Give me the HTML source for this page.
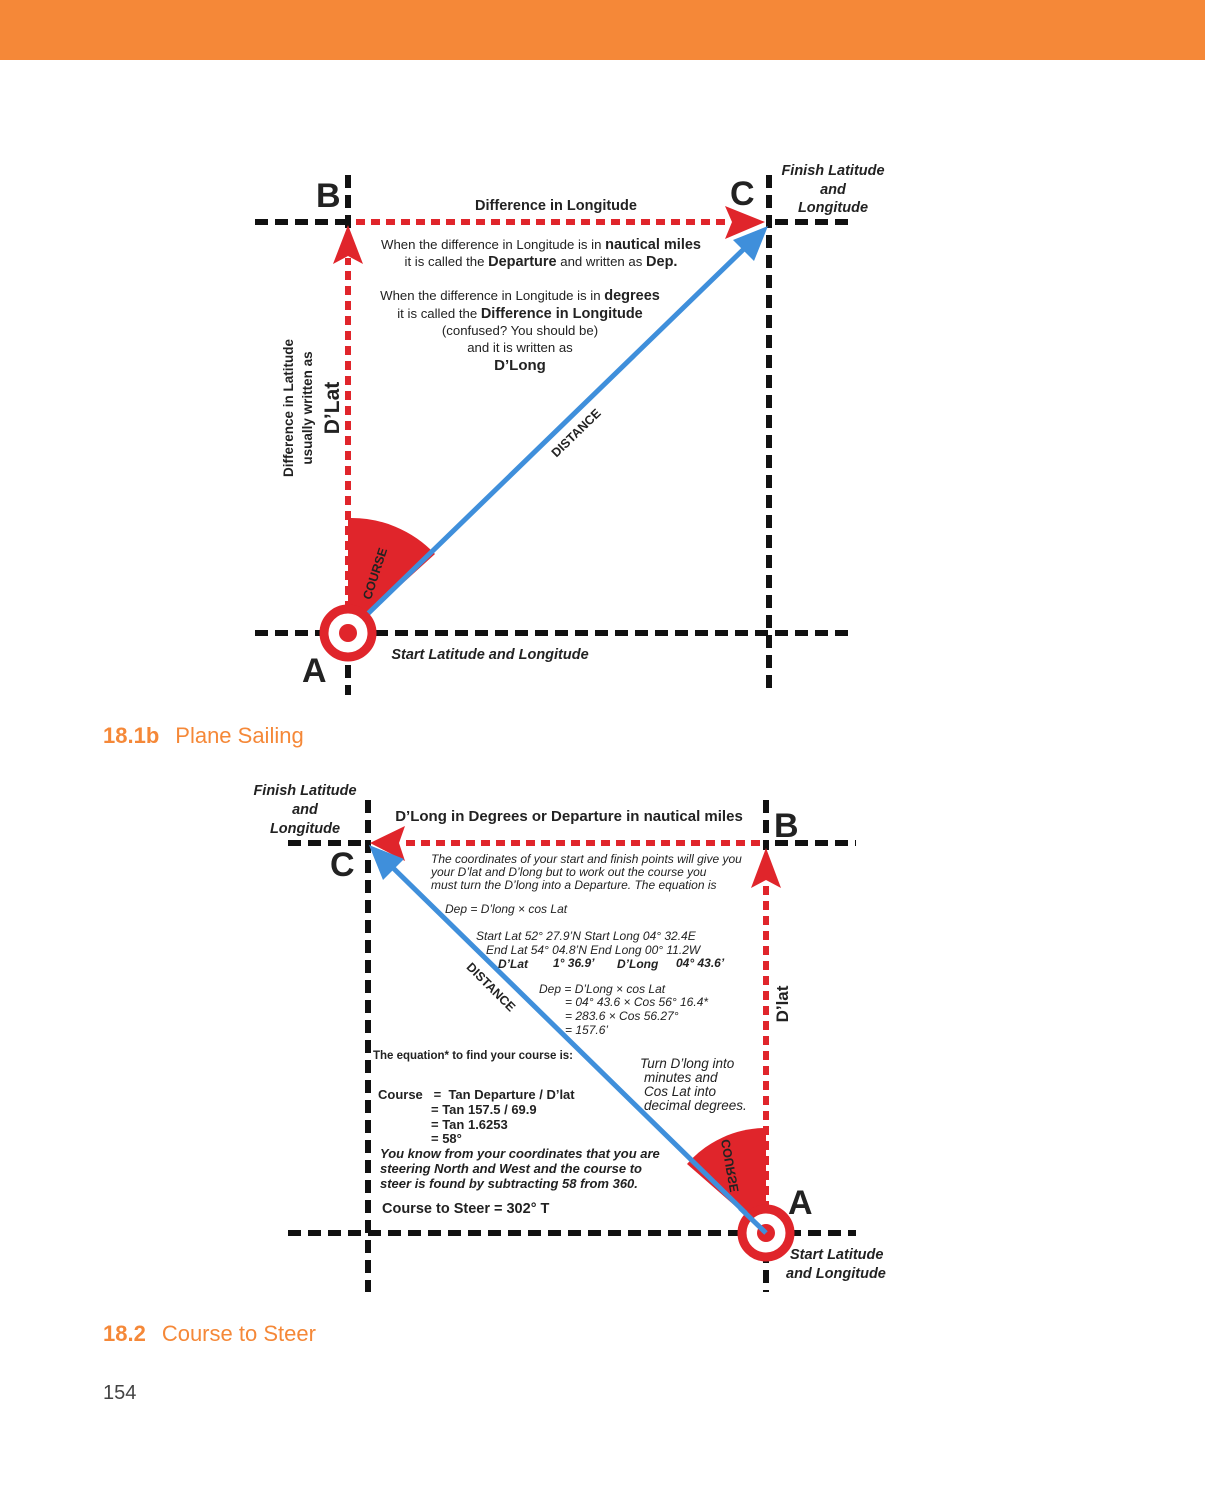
<!DOCTYPE html>
<html><head><meta charset="utf-8"><style>
html,body{margin:0;padding:0;background:#fff;}
body{width:1205px;height:1489px;overflow:hidden;}
svg{display:block;font-family:"Liberation Sans",sans-serif;}
</style></head><body>
<svg width="1205" height="1489" viewBox="0 0 1205 1489" xmlns="http://www.w3.org/2000/svg">
<rect x="0" y="0" width="1205" height="60" fill="#f58838"/>

<!-- ===== TOP DIAGRAM ===== -->
<g stroke="#111" stroke-width="6" stroke-dasharray="13,7" fill="none">
  <line x1="255" y1="222" x2="345" y2="222"/>
  <line x1="775" y1="222" x2="855" y2="222"/>
  <line x1="255" y1="633" x2="855" y2="633"/>
  <line x1="348" y1="175" x2="348" y2="228"/>
  <line x1="348" y1="645" x2="348" y2="695"/>
  <line x1="769" y1="175" x2="769" y2="695"/>
</g>
<g stroke="#e0252b" stroke-width="6" stroke-dasharray="9,6" fill="none">
  <line x1="356" y1="222" x2="730" y2="222"/>
  <line x1="348" y1="625" x2="348" y2="258"/>
</g>
<polygon points="765,222 725,206 732,222 725,239" fill="#e0252b"/>
<polygon points="348,225 333,264 348,256 363,264" fill="#e0252b"/>
<path d="M348,633 L348,518 A115,115 0 0 1 435,554 Z" fill="#e0252b"/>
<line x1="348" y1="633" x2="750" y2="243" stroke="#3f8fdb" stroke-width="5"/>
<polygon points="768,226 733,240 754,261" fill="#3f8fdb"/>
<circle cx="348" cy="633" r="24" fill="#fff" stroke="#e0252b" stroke-width="9"/>
<circle cx="348" cy="633" r="9" fill="#e0252b"/>

<g fill="#222" font-weight="bold">
  <text x="316" y="207" font-size="34">B</text>
  <text x="730" y="205" font-size="34">C</text>
  <text x="302" y="682" font-size="34">A</text>
  <text x="556" y="210" font-size="14.5" text-anchor="middle">Difference in Longitude</text>
</g>
<g font-style="italic" font-weight="bold" font-size="14.5" fill="#222" text-anchor="middle">
  <text x="833" y="175">Finish Latitude</text>
  <text x="833" y="194">and</text>
  <text x="833" y="212">Longitude</text>
  <text x="490" y="659">Start Latitude and Longitude</text>
</g>
<g font-size="13.2" fill="#222" text-anchor="middle">
  <text x="541" y="249">When the difference in Longitude is in <tspan font-weight="bold" font-size="14.5">nautical miles</tspan></text>
  <text x="541" y="266">it is called the <tspan font-weight="bold" font-size="14.5">Departure</tspan> and written as <tspan font-weight="bold" font-size="14.5">Dep.</tspan></text>
  <text x="520" y="300">When the difference in Longitude is in <tspan font-weight="bold" font-size="14.5">degrees</tspan></text>
  <text x="520" y="318">it is called the <tspan font-weight="bold" font-size="14.5">Difference in Longitude</tspan></text>
  <text x="520" y="335">(confused? You should be)</text>
  <text x="520" y="352">and it is written as</text>
  <text x="520" y="370" font-weight="bold" font-size="15">D’Long</text>
</g>
<g font-weight="bold" fill="#222" text-anchor="middle">
  <text transform="translate(293,408) rotate(-90)" font-size="13.5">Difference in Latitude</text>
  <text transform="translate(312,408) rotate(-90)" font-size="13.5">usually written as</text>
  <text transform="translate(339,408) rotate(-90)" font-size="21">D’Lat</text>
  <text transform="translate(579,436) rotate(-44)" font-size="12.5">DISTANCE</text>
  <text transform="translate(379,575) rotate(-72)" font-size="12.5">COURSE</text>
</g>

<text x="103" y="743" font-size="22" fill="#f58838"><tspan font-weight="bold">18.1b</tspan><tspan dx="16">Plane Sailing</tspan></text>

<!-- ===== BOTTOM DIAGRAM ===== -->
<g stroke="#111" stroke-width="6" stroke-dasharray="13,7" fill="none">
  <line x1="288" y1="843" x2="362" y2="843"/>
  <line x1="775" y1="843" x2="856" y2="843"/>
  <line x1="288" y1="1233" x2="856" y2="1233"/>
  <line x1="368" y1="800" x2="368" y2="1292"/>
  <line x1="766" y1="800" x2="766" y2="850"/>
  <line x1="766" y1="1250" x2="766" y2="1292"/>
</g>
<g stroke="#e0252b" stroke-width="6" stroke-dasharray="9,6" fill="none">
  <line x1="760" y1="843" x2="404" y2="843"/>
  <line x1="766" y1="1225" x2="766" y2="886"/>
</g>
<polygon points="370,843 405,826 399,843 405,861" fill="#e0252b"/>
<polygon points="766,848 751,888 766,880 781,888" fill="#e0252b"/>
<path d="M766,1233 L766,1128 A105,105 0 0 0 687,1164 Z" fill="#e0252b"/>
<line x1="766" y1="1233" x2="385" y2="860" stroke="#3f8fdb" stroke-width="5"/>
<polygon points="369,845 404,859 383,880" fill="#3f8fdb"/>
<circle cx="766" cy="1233" r="24" fill="#fff" stroke="#e0252b" stroke-width="9"/>
<circle cx="766" cy="1233" r="9" fill="#e0252b"/>
<line x1="766" y1="1233" x2="740" y2="1208" stroke="#3f8fdb" stroke-width="5"/>

<g fill="#222" font-weight="bold">
  <text x="774" y="837" font-size="34">B</text>
  <text x="330" y="876" font-size="34">C</text>
  <text x="788" y="1214" font-size="34">A</text>
  <text x="569" y="821" font-size="15" text-anchor="middle">D’Long in Degrees or Departure in nautical miles</text>
</g>
<g font-style="italic" font-weight="bold" font-size="14.5" fill="#222">
  <text x="305" y="795" text-anchor="middle">Finish Latitude</text>
  <text x="305" y="814" text-anchor="middle">and</text>
  <text x="305" y="833" text-anchor="middle">Longitude</text>
  <text x="790" y="1259">Start Latitude</text>
  <text x="786" y="1278">and Longitude</text>
</g>
<g font-style="italic" font-size="12" fill="#222">
  <text x="431" y="863">The coordinates of your start and finish points will give you</text>
  <text x="431" y="876">your D’lat and D’long but to work out the course you</text>
  <text x="431" y="889">must turn the D’long into a Departure. The equation is</text>
  <text x="445" y="913">Dep = D’long × cos Lat</text>
  <text x="476" y="940">Start Lat 52° 27.9’N   Start Long 04° 32.4E</text>
  <text x="486" y="954">End Lat 54° 04.8’N   End Long 00° 11.2W</text>
  <text x="498" y="968" font-weight="bold">D’Lat</text>
  <text x="553" y="967" font-weight="bold">1° 36.9’</text>
  <text x="617" y="968" font-weight="bold">D’Long</text>
  <text x="676" y="967" font-weight="bold">04° 43.6’</text>
  <text x="539" y="993">Dep = D’Long × cos Lat</text>
  <text x="565" y="1006">= 04° 43.6 × Cos 56° 16.4*</text>
  <text x="565" y="1020">= 283.6 × Cos 56.27°</text>
  <text x="565" y="1034">= 157.6’</text>
  <text x="640" y="1068" font-size="13.5">Turn D’long into</text>
  <text x="644" y="1082" font-size="13.5">minutes and</text>
  <text x="644" y="1096" font-size="13.5">Cos Lat into</text>
  <text x="644" y="1110" font-size="13.5">decimal degrees.</text>
</g>
<g font-weight="bold" fill="#222" font-size="13">
  <text x="373" y="1059" font-size="11.5">The equation* to find your course is:</text>
  <text x="378" y="1099" xml:space="preserve">Course   =  Tan Departure / D’lat</text>
  <text x="431" y="1114">=  Tan 157.5 / 69.9</text>
  <text x="431" y="1129">=  Tan 1.6253</text>
  <text x="431" y="1143">=  58°</text>
  <g font-style="italic">
  <text x="380" y="1158">You know from your coordinates that you are</text>
  <text x="380" y="1173">steering North and West and the course to</text>
  <text x="380" y="1188">steer is found by subtracting 58 from 360.</text>
  </g>
  <text x="382" y="1213" font-size="14.5">Course to Steer = 302° T</text>
</g>
<g font-weight="bold" fill="#222" text-anchor="middle">
  <text transform="translate(788,1004) rotate(-90)" font-size="17">D’lat</text>
  <text transform="translate(488,990) rotate(45)" font-size="12.5">DISTANCE</text>
  <text transform="translate(734,1165) rotate(-100) scale(-1,1)" font-size="12.5">COURSE</text>
</g>

<text x="103" y="1341" font-size="22" fill="#f58838"><tspan font-weight="bold">18.2</tspan><tspan dx="16">Course to Steer</tspan></text>
<text x="103" y="1399" font-size="20" fill="#444">154</text>
</svg>
</body></html>
